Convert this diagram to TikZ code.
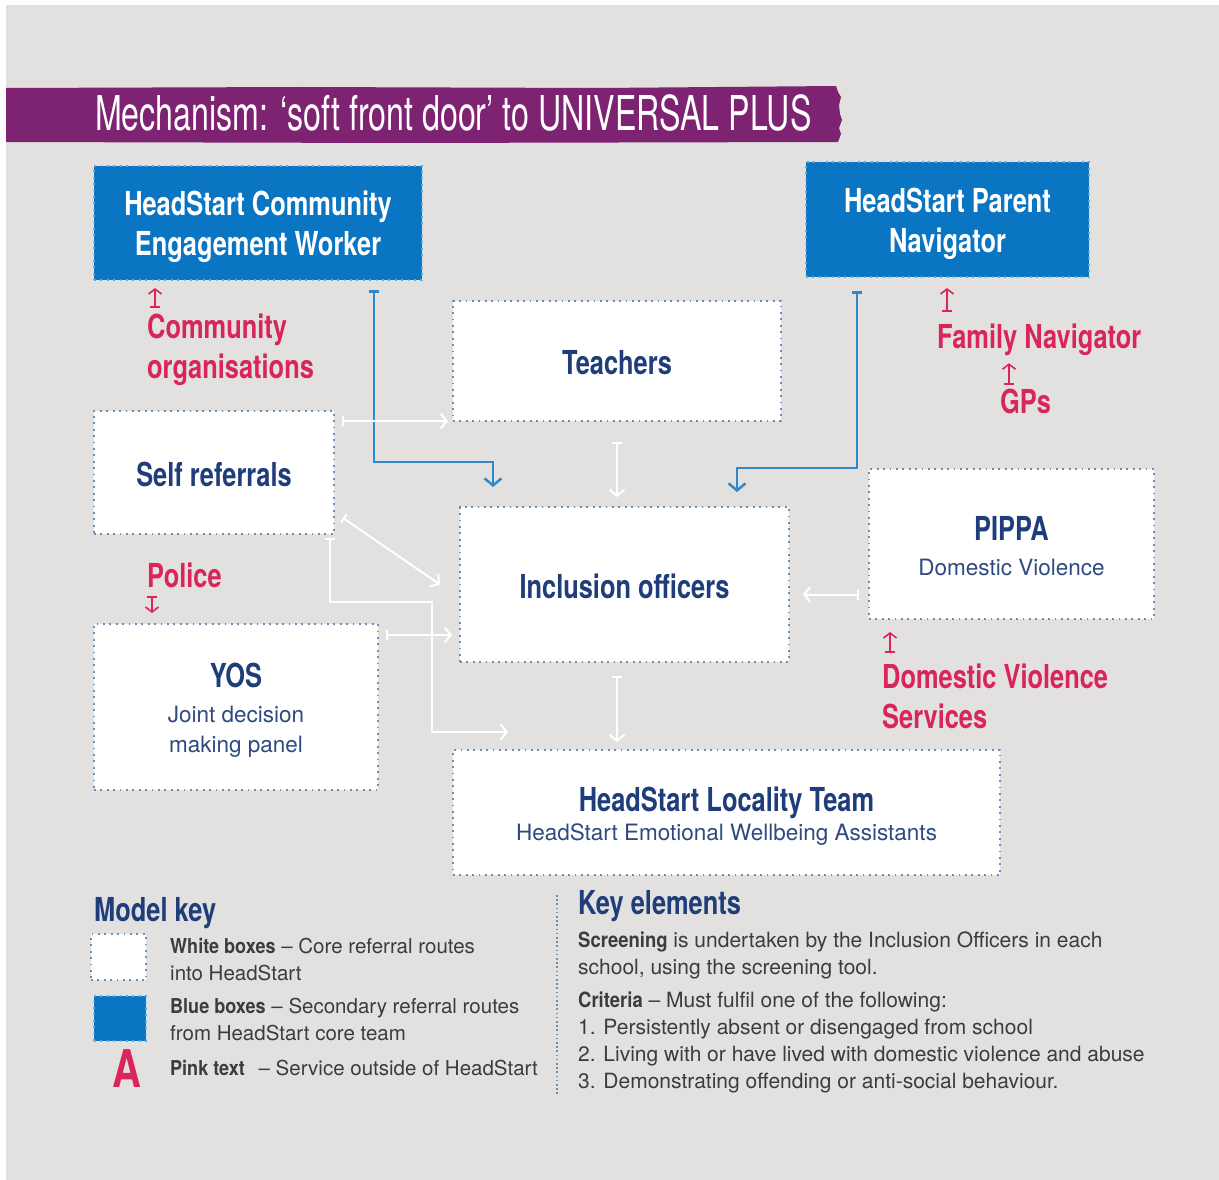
\documentclass[tikz,border=0pt]{standalone}
\usepackage{fontspec}
\setmainfont{TeX Gyre Heros}
\newfontfamily\condfont[FakeStretch=0.77]{TeX Gyre Heros}
\newfontfamily\keycondfont[FakeStretch=0.88]{TeX Gyre Heros}
\newfontfamily\titlefont[FakeStretch=0.67]{TeX Gyre Heros}
\usepackage{tikz}
\usetikzlibrary{arrows.meta,calc}
\definecolor{PanelGray}{HTML}{E2E1DF}
\definecolor{BannerPurple}{HTML}{7E2272}
\definecolor{BoxBlue}{HTML}{0A75C2}
\definecolor{BoxBlueEdge}{HTML}{5AA8E0}
\definecolor{RouteBlue}{HTML}{2F88C9}
\definecolor{TitleNavy}{HTML}{1F3D7A}
\definecolor{SubNavy}{HTML}{2E4A80}
\definecolor{ServicePink}{HTML}{D9245E}
\definecolor{DotEdge}{HTML}{6690B8}
\definecolor{KeyGray}{HTML}{3C3C3C}
\newcommand{\subtext}{\normalfont\fontsize{22.5}{30}\selectfont\color{SubNavy}}
\newcommand{\keybold}{\keycondfont\bfseries}
\newcommand{\lift}[1]{\rule{0pt}{#1pt}}

\begin{document}
\begin{tikzpicture}[x=1pt,y=-1pt,
  corebox/.style={fill=white, draw=DotEdge, line width=1.8pt, dash pattern=on 1.8pt off 4.6pt,
    outer sep=0pt, inner sep=0pt, align=center, text=TitleNavy,
    font=\condfont\bfseries\fontsize{33}{40}\selectfont},
  teambox/.style={corebox, fill=BoxBlue, draw=BoxBlueEdge, text=white},
  service/.style={inner sep=0pt, anchor=north west, align=left, text=ServicePink,
    font=\condfont\bfseries\fontsize{33}{40}\selectfont},
  keytext/.style={inner sep=0pt, anchor=west, align=left, text=KeyGray,
    font=\fontsize{20.5}{27}\selectfont},
  keyhead/.style={inner sep=0pt, anchor=north west, text=TitleNavy,
    font=\condfont\bfseries\fontsize{33}{40}\selectfont},
  whiteroute/.style={draw=white, line width=2pt,
    {Bar[width=10pt]}-{Straight Barb[length=6pt,width=15pt]}},
  blueroute/.style={draw=RouteBlue, line width=2.5pt,
    {Bar[width=10pt]}-{Straight Barb[length=7pt,width=17pt]}},
  pinkroute/.style={draw=ServicePink, line width=1.6pt,
    {Bar[width=10pt]}-{Straight Barb[length=5pt,width=13pt]}}]

  \useasboundingbox (0,0) rectangle (1219,1180);
  \fill[white] (0,0) rectangle (1219,1180);
  \fill[PanelGray] (6,5) rectangle (1219,1180);

  \fill[BannerPurple] (6,88) -- (300,87) -- (600,88) -- (836,86) -- (838,92) -- (841,97)
    -- (839,105) -- (840,114) -- (842,120) -- (839,128) -- (841,134) -- (838,142)
    -- (400,143) -- (6,142) -- cycle;
  \node[anchor=west, inner sep=0pt, text=white, font=\titlefont\fontsize{48}{48}\selectfont]
    (title) at (95,113) {Mechanism: ‘soft front door’ to UNIVERSAL PLUS};

  \node[teambox, minimum width=328pt, minimum height=114pt] (cew) at (258,223) {\lift{33}HeadStart Community\\Engagement Worker};
  \node[teambox, minimum width=283pt, minimum height=115pt] (pnav) at (947.5,219.5) {\lift{33}HeadStart Parent\\Navigator};
  \node[corebox, minimum width=328pt, minimum height=120pt] (teach) at (617,361) {\lift{28}Teachers};
  \node[corebox, minimum width=240pt, minimum height=123pt] (self) at (214,472.5) {\lift{28}Self referrals};
  \node[corebox, minimum width=329pt, minimum height=155pt] (incl) at (624.5,584.5) {\lift{28}Inclusion officers};
  \node[corebox, minimum width=285pt, minimum height=150pt] (pippa) at (1011.5,544)
    {\lift{28}PIPPA\\[-5pt]{\subtext Domestic Violence}};
  \node[corebox, minimum width=284pt, minimum height=166pt] (yos) at (236,707)
    {\lift{31}YOS\\[-5pt]{\subtext Joint decision}\\[-10pt]{\subtext making panel}};
  \node[corebox, minimum width=547pt, minimum height=125pt] (loc) at (726.5,812.5)
    {\lift{31}HeadStart Locality Team\\[-11pt]{\subtext HeadStart Emotional Wellbeing Assistants}};

  \node[service] (comm) at (147,314) {Community\\organisations};
  \node[service] (police) at (147,563) {Police};
  \node[service] (fam) at (937,324) {Family Navigator};
  \node[service] (gps) at (1000,389) {GPs};
  \node[service] (dvs) at (882,664) {Domestic Violence\\Services};

  \coordinate (commarr) at ([xshift=8pt,yshift=6pt]comm.north west);
  \coordinate (polarr) at ([xshift=5pt,yshift=-8pt]police.south west);
  \coordinate (famarr) at ([xshift=10pt,yshift=12pt]fam.north west);
  \coordinate (gpsarr) at ([xshift=9pt,yshift=4pt]gps.north west);
  \coordinate (dvsarr) at ([xshift=8pt,yshift=11pt]dvs.north west);
  \draw[pinkroute, shorten >=8pt] (commarr) -- (commarr |- cew.south);
  \draw[pinkroute, shorten >=11pt] (polarr) -- (polarr |- yos.north);
  \draw[pinkroute, shorten >=11pt] (famarr) -- (famarr |- pnav.south);
  \draw[pinkroute, shorten >=7pt] (gpsarr) -- (gpsarr |- fam.south);
  \draw[pinkroute, shorten >=13pt] (dvsarr) -- (dvsarr |- pippa.south);

  \coordinate (cewbend) at (420,462);
  \coordinate (pnavbend) at (800,468);
  \draw[blueroute, shorten <=10pt, shorten >=20pt] ([xshift=116pt]cew.south) |- (cewbend) -| ([xshift=33pt]incl.north west);
  \draw[blueroute, shorten <=14pt, shorten >=15pt] ([xshift=-90.5pt]pnav.south) |- (pnavbend) -| ([xshift=-52pt]incl.north east);

  \coordinate (elbow) at (432,602);
  \coordinate (yosarr) at ([yshift=-11pt]yos.north east);
  \coordinate (pipparr) at ([yshift=-10pt]incl.east);
  \draw[whiteroute, shorten <=8pt, shorten >=5pt] (self.east |- teach.south) -- (teach.south west);
  \draw[whiteroute] ([shift={(9,-16)}]self.south east) -- ([xshift=-20pt]incl.west);
  \draw[whiteroute, shorten <=4pt] ([xshift=-4pt]self.south east) |- (elbow) |- ([shift={(55,-18)}]loc.north west);
  \draw[whiteroute, shorten <=8pt, shorten >=8pt] (yosarr) -- (yosarr -| incl.west);
  \draw[whiteroute, shorten <=21pt, shorten >=10pt] (teach.south) -- (teach.south |- incl.north);
  \draw[whiteroute, shorten <=14pt, shorten >=8pt] (teach.south |- incl.south) -- (teach.south |- loc.north);
  \draw[whiteroute, shorten <=10pt, shorten >=14pt] (pipparr -| pippa.west) -- (pipparr);

  \node[keyhead] (modelkey) at (94,897) {Model key};
  \node[corebox, minimum width=55pt, minimum height=46pt] (keywhite) at (118.5,957) {};
  \node[teambox, minimum width=52pt, minimum height=45pt] (keyblue) at (120,1018.5) {};
  \node[inner sep=0pt, text=ServicePink, font=\condfont\bfseries\fontsize{52}{52}\selectfont] (keypink) at (127,1069) {A};
  \node[keytext] (whitetext) at (170,959.5) {{\keybold White boxes} – Core referral routes\\into HeadStart};
  \node[keytext] (bluetext) at (170,1019.5) {{\keybold Blue boxes} – Secondary referral routes\\from HeadStart core team};
  \node[keytext] (pinktext) at (170,1068) {{\keybold Pink text}\hspace{8pt} – Service outside of HeadStart};

  \draw[draw=DotEdge, line width=1.6pt, dash pattern=on 1.6pt off 2.6pt] (557,895) -- (557,1095);
  \node[keyhead] (keyelements) at (578,890) {Key elements};
  \node[keytext, anchor=north west, font=\fontsize{21}{27}\selectfont] (criteria) at (578,932)
    {{\keybold Screening} is undertaken by the Inclusion Officers in each\\
     school, using the screening tool.\\[6pt]
     {\keybold Criteria} – Must fulfil one of the following:\\
     1. Persistently absent or disengaged from school\\
     2. Living with or have lived with domestic violence and abuse\\
     3. Demonstrating offending or anti-social behaviour.};
\end{tikzpicture}
\end{document}
